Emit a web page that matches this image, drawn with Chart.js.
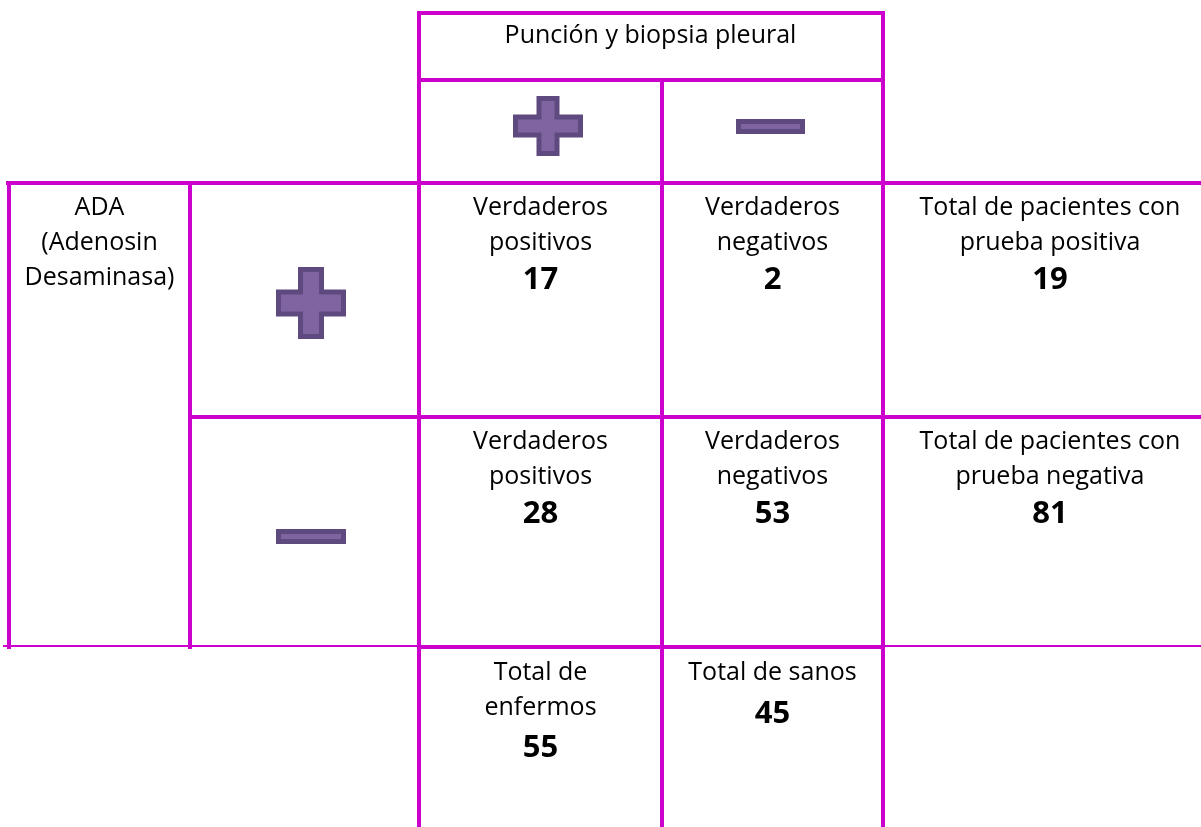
<!DOCTYPE html>
<html>
<head>
<meta charset="utf-8">
<title>Punción y biopsia pleural vs ADA</title>
<script src="https://cdn.jsdelivr.net/npm/chart.js@4.4.1/dist/chart.umd.min.js"></script>
<style>
  html, body { margin: 0; padding: 0; background: #ffffff; }
  canvas { display: block; }
</style>
</head>
<body>
<canvas id="tableChart" width="1201" height="827"></canvas>
<script>
(function () {
  "use strict";

  // --- data ---
  const headerTitle = "Punción y biopsia pleural";
  const rowTitle = ["ADA", "(Adenosin", "Desaminasa)"];
  const signs = ["plus", "minus"];
  const cellLabels = [
    ["Verdaderos", "positivos"], ["Verdaderos", "negativos"],
    ["Verdaderos", "positivos"], ["Verdaderos", "negativos"]
  ];
  const cellValues = [17, 2, 28, 53];
  const rowTotalLabels = [
    ["Total de pacientes con", "prueba positiva"],
    ["Total de pacientes con", "prueba negativa"]
  ];
  const rowTotals = [19, 81];
  const colTotalLabels = [["Total de", "enfermos"], ["Total de sanos"]];
  const colTotals = [55, 45];

  // --- layout (canvas units, y grows downward) ---
  const colX = [9, 190, 419, 662, 883, 1201];
  const rowY = [13, 80, 183, 417, 647, 827];
  const textX = [99.5, 540.5, 772.5, 1050];

  const colors = {
    line: "#cc00cc",
    text: "#000000",
    iconFill: "#8064a2",
    iconEdge: "#5f4a80"
  };

  function segment(x1, y1, x2, y2, width) {
    return {
      type: "line",
      data: [{ x: x1, y: y1 }, { x: x2, y: y2 }],
      borderColor: colors.line,
      borderWidth: width,
      pointRadius: 0,
      showLine: true,
      borderCapStyle: "square",
      clip: false
    };
  }

  // w, h: outer size; aw, ah: vertical arm width, horizontal arm height
  function signImage(kind, w, h, aw, ah) {
    const c = document.createElement("canvas");
    const edge = 5;
    c.width = w;
    c.height = h;
    const g = c.getContext("2d");
    function shape(inset) {
      g.beginPath();
      if (kind === "plus") {
        const a0 = (w - aw) / 2 + inset, a1 = (w + aw) / 2 - inset;
        const b0 = (h - ah) / 2 + inset, b1 = (h + ah) / 2 - inset;
        g.moveTo(a0, inset); g.lineTo(a1, inset); g.lineTo(a1, b0);
        g.lineTo(w - inset, b0); g.lineTo(w - inset, b1); g.lineTo(a1, b1);
        g.lineTo(a1, h - inset); g.lineTo(a0, h - inset); g.lineTo(a0, b1);
        g.lineTo(inset, b1); g.lineTo(inset, b0); g.lineTo(a0, b0);
        g.closePath();
      } else {
        g.rect(inset, inset, w - 2 * inset, h - 2 * inset);
      }
    }
    shape(0);
    g.fillStyle = colors.iconEdge;
    g.fill();
    shape(edge);
    g.fillStyle = colors.iconFill;
    g.fill();
    return c;
  }

  const datasets = [
    segment(colX[2], rowY[0], colX[4], rowY[0], 4),
    segment(colX[2], rowY[1], colX[4], rowY[1], 4),
    segment(8, rowY[2], 1201, rowY[2], 4),
    segment(colX[1], rowY[3], 1201, rowY[3], 4),
    segment(4, rowY[4] - 1, 1201, rowY[4] - 1, 2),
    segment(colX[2], rowY[4], colX[4], rowY[4], 4),
    segment(colX[0], rowY[2], colX[0], rowY[4], 4),
    segment(colX[1], rowY[2], colX[1], rowY[4], 4),
    segment(colX[2], rowY[0], colX[2], rowY[5], 4),
    segment(colX[3], rowY[1], colX[3], rowY[5], 4),
    segment(colX[4], rowY[0], colX[4], rowY[5], 4)
  ];

  // the +/- marks are points drawn with a canvas point style
  signs.forEach(function (kind, i) {
    const styles = kind === "plus"
      ? [signImage(kind, 70, 60, 23, 23), signImage(kind, 70, 72, 26, 27)]
      : [signImage(kind, 69, 15), signImage(kind, 70, 15)];
    datasets.push({
      type: "scatter",
      data: [
        { x: i === 0 ? 548 : 770.5, y: i === 0 ? 126 : 126.5 },
        { x: 311, y: i === 0 ? 303 : 536.5 }
      ],
      pointStyle: styles,
      pointRadius: 35,
      pointHoverRadius: 35,
      clip: false
    });
  });

  function lines(ctx, xs, ys, texts, top, offsets, numberText) {
    ctx.font = "25px 'Open Sans'";
    texts.forEach(function (t, i) {
      ctx.fillText(t, xs.getPixelForValue(top.x), ys.getPixelForValue(top.y + offsets[i]));
    });
    if (numberText !== undefined) {
      ctx.font = "bold 31px 'Open Sans'";
      ctx.fillText(String(numberText), xs.getPixelForValue(top.x),
        ys.getPixelForValue(top.y + offsets[texts.length]));
    }
  }

  const tableText = {
    id: "tableText",
    afterDatasetsDraw: function (chart) {
      const ctx = chart.ctx;
      const xs = chart.scales.x, ys = chart.scales.y;
      ctx.save();
      ctx.fillStyle = colors.text;
      ctx.textAlign = "center";
      ctx.textBaseline = "alphabetic";
      const off = [32, 67, 106];

      lines(ctx, xs, ys, [headerTitle], { x: 650.5, y: rowY[0] }, [30]);
      lines(ctx, xs, ys, rowTitle, { x: textX[0], y: rowY[2] }, [32, 67, 102]);

      for (let r = 0; r < 2; r++) {
        for (let c = 0; c < 2; c++) {
          const k = r * 2 + c;
          lines(ctx, xs, ys, cellLabels[k], { x: textX[1 + c], y: rowY[2 + r] }, off, cellValues[k]);
        }
        lines(ctx, xs, ys, rowTotalLabels[r], { x: textX[3], y: rowY[2 + r] }, off, rowTotals[r]);
      }

      lines(ctx, xs, ys, colTotalLabels[0], { x: textX[1], y: rowY[4] }, [33, 68, 110], colTotals[0]);
      lines(ctx, xs, ys, colTotalLabels[1], { x: textX[2], y: rowY[4] }, [33, 76], colTotals[1]);
      ctx.restore();
    }
  };

  new Chart(document.getElementById("tableChart"), {
    type: "scatter",
    data: { datasets: datasets },
    options: {
      responsive: false,
      animation: false,
      events: [],
      layout: { padding: 0, autoPadding: false },
      plugins: { legend: { display: false }, tooltip: { enabled: false } },
      scales: {
        x: { type: "linear", min: 0, max: 1201, display: false },
        y: { type: "linear", min: 0, max: 827, reverse: true, display: false }
      }
    },
    plugins: [tableText]
  });
})();
</script>
</body>
</html>
